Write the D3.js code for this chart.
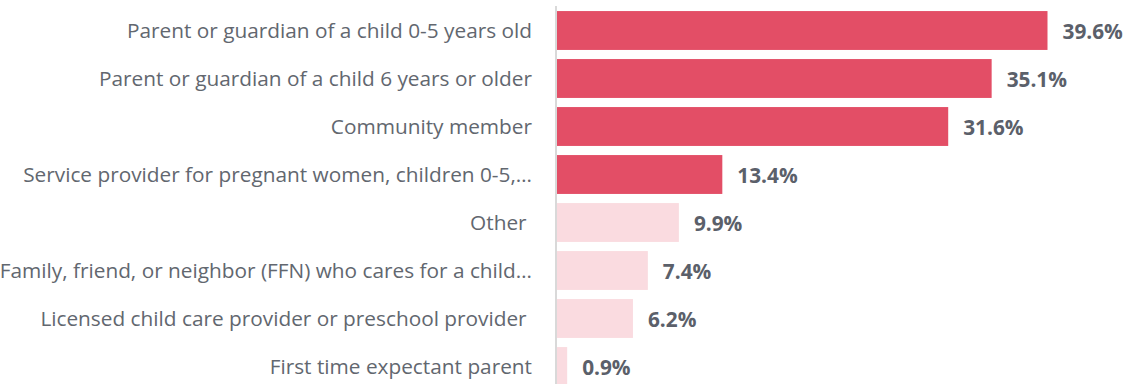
<!DOCTYPE html>
<html>
<head>
<meta charset="utf-8">
<script src="https://cdn.jsdelivr.net/npm/d3@7"></script>
<style>
  html, body { margin: 0; padding: 0; background: #fff; }
  svg { display: block; }
  text { white-space: pre; }
</style>
</head>
<body>
<svg id="chart" width="1128" height="384"></svg>
<script>
// Respondent roles and share of respondents (%)
const categories = [
  "Parent or guardian of a child 0-5 years old",
  "Parent or guardian of a child 6 years or older",
  "Community member",
  "Service provider for pregnant women, children 0-5,…",
  "Other ",
  "Family, friend, or neighbor (FFN) who cares for a child…",
  "Licensed child care provider or preschool provider ",
  "First time expectant parent"
];
const values = [39.6, 35.1, 31.6, 13.4, 9.9, 7.4, 6.2, 0.9];
const highlighted = [true, true, true, true, false, false, false, false];

const svg = d3.select("#chart");
const axisX = 556;

const x = d3.scaleLinear().domain([0, 39.6]).range([axisX, 1047.5]);
const y = d3.scaleBand().domain(categories).range([6.5, 390.5]).paddingInner(0.19).paddingOuter(0.095);

const rows = svg.selectAll("g.row")
  .data(categories.map((c, i) => ({ c, v: values[i], hi: highlighted[i] })))
  .join("g").attr("class", "row");

rows.append("rect")
  .attr("x", axisX)
  .attr("y", d => y(d.c))
  .attr("width", d => x(d.v) - axisX)
  .attr("height", y.bandwidth())
  .attr("fill", d => d.hi ? "#e34e66" : "#fadbe0");

rows.append("text")
  .attr("x", axisX - 24)
  .attr("y", d => y(d.c) + y.bandwidth() / 2)
  .attr("dy", "0.35em")
  .attr("text-anchor", "end")
  .attr("font-family", "'Open Sans', sans-serif")
  .attr("font-size", 20.8)
  .attr("fill", "#62676f")
  .text(d => d.c);

rows.append("text")
  .attr("x", d => x(d.v) + 15)
  .attr("y", d => y(d.c) + y.bandwidth() / 2)
  .attr("dy", "0.4em")
  .attr("font-family", "'Open Sans', sans-serif")
  .attr("font-weight", "bold")
  .attr("font-size", 20.8)
  .attr("fill", "#5b606a")
  .text(d => d.v.toFixed(1) + "%");

// vertical category axis line
svg.append("line")
  .attr("x1", axisX).attr("x2", axisX)
  .attr("y1", 6).attr("y2", 384)
  .attr("stroke", "#d9d9d9")
  .attr("stroke-width", 2);
</script>
</body>
</html>
